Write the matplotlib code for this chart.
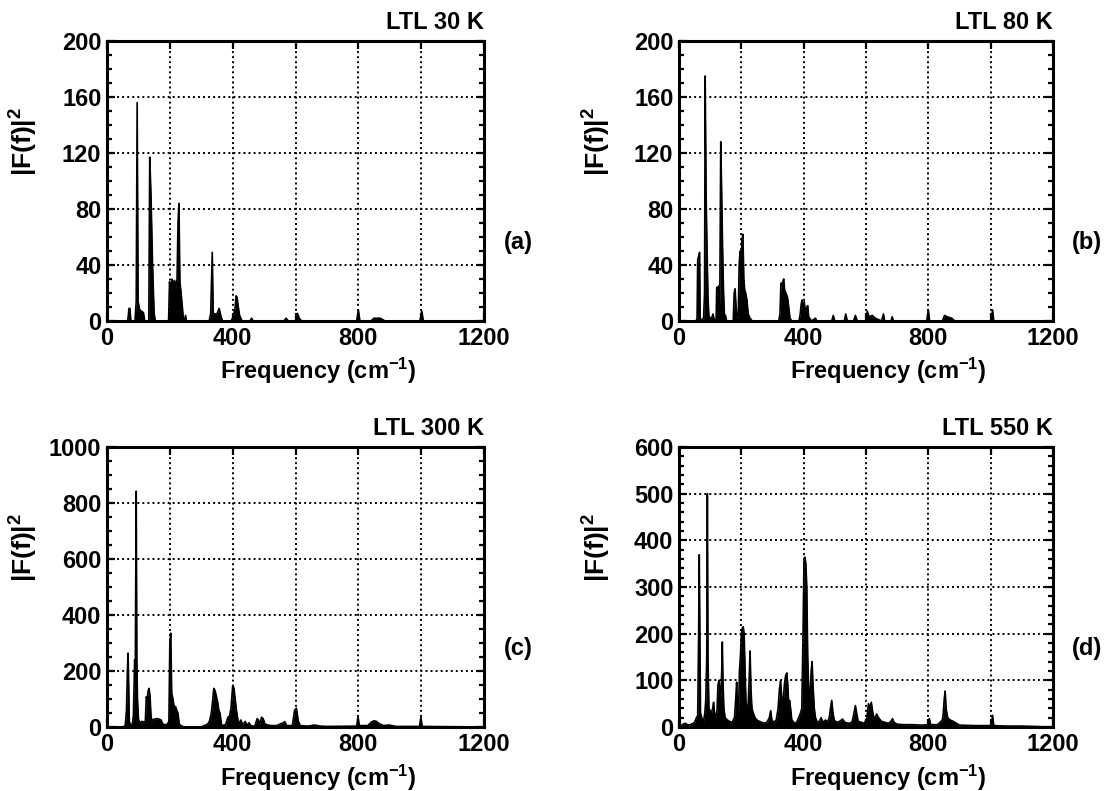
import matplotlib
matplotlib.use("Agg")
import matplotlib.pyplot as plt
import numpy as np
from matplotlib.ticker import MultipleLocator, FuncFormatter

plt.rcParams["font.family"] = ["Liberation Sans", "DejaVu Sans"]
plt.rcParams["font.weight"] = "bold"
plt.rcParams["mathtext.fontset"] = "custom"
plt.rcParams["mathtext.rm"] = "Liberation Sans:bold"
plt.rcParams["mathtext.it"] = "Liberation Sans:bold:italic"
plt.rcParams["mathtext.bf"] = "Liberation Sans:bold"

# Power spectra |F(f)|^2 of the LTL trajectory, as (frequency cm^-1, power) samples
SPEC_30K = [
    (0, 0), (66, 0), (70, 9), (73, 9), (76, 0), (89, 0), (93, 14), (96, 156), (99, 14),
    (104, 8), (110, 7), (116, 6), (120, 0), (133, 0), (136, 117), (140, 90), (145, 40),
    (150, 5), (154, 0), (196, 0), (199, 28), (203, 22), (207, 30), (211, 26), (215, 29),
    (219, 24), (223, 30), (226, 70), (229, 84), (232, 28), (235, 22), (239, 12), (243, 2),
    (247, 0), (250, 4), (253, 0), (325, 0), (330, 5), (335, 49), (338, 6), (342, 5),
    (350, 5), (357, 9), (362, 4), (368, 0), (395, 0), (402, 3), (408, 10), (411, 18),
    (414, 17), (418, 10), (422, 4), (430, 0), (455, 0), (460, 2), (466, 0), (563, 0),
    (570, 2), (577, 0), (600, 0), (606, 5.5), (612, 2), (620, 0), (795, 0), (800, 8),
    (805, 0), (840, 0), (850, 2), (870, 2), (885, 0), (996, 0), (1002, 7), (1007, 0),
    (1200, 0),
]

SPEC_80K = [
    (0, 0), (55, 0), (58, 2), (60, 44), (63, 46), (66, 49), (68, 2), (75, 0), (79, 3),
    (82, 20), (84, 175), (87, 90), (90, 50), (93, 17), (96, 3), (105, 2), (109, 5),
    (113, 1), (119, 0), (121, 24), (124, 22), (127, 25), (129, 2), (131, 20), (134, 128),
    (137, 90), (140, 50), (143, 20), (146, 3), (149, 4), (153, 0), (174, 0), (177, 20),
    (180, 23), (183, 10), (186, 2), (190, 3), (193, 40), (196, 50), (199, 30), (202, 58),
    (205, 62), (208, 30), (211, 22), (214, 20), (218, 15), (222, 5), (228, 2), (235, 0),
    (320, 0), (324, 5), (327, 27), (330, 26), (333, 28), (336, 30), (339, 22), (343, 20),
    (348, 17), (352, 10), (356, 2), (362, 0), (385, 0), (389, 5), (392, 12), (395, 15),
    (398, 8), (402, 14), (405, 6), (410, 10), (413, 11), (416, 3), (425, 0), (438, 2),
    (442, 0), (490, 0), (495, 4), (500, 0), (530, 0), (535, 5), (540, 0), (560, 0),
    (566, 4), (572, 0), (600, 0), (604, 7), (610, 3), (620, 4), (630, 2), (650, 0),
    (656, 5), (660, 0), (680, 0), (684, 3), (688, 0), (795, 0), (800, 8), (804, 0),
    (845, 0), (852, 4), (860, 3), (875, 2), (885, 0), (1002, 0), (1006, 8), (1010, 0),
    (1200, 0),
]

SPEC_300K = [
    (0, 0), (50, 0), (58, 5), (62, 60), (65, 200), (67, 264), (69, 150), (71, 20), (74, 10),
    (80, 5), (84, 40), (88, 240), (90, 200), (93, 842), (95, 240), (97, 100), (100, 30),
    (104, 15), (110, 20), (118, 18), (122, 20), (125, 108), (128, 100), (131, 130),
    (134, 138), (137, 110), (140, 40), (144, 20), (150, 28), (158, 30), (166, 28),
    (172, 25), (178, 10), (185, 8), (192, 10), (197, 20), (200, 300), (203, 335),
    (206, 120), (210, 100), (214, 70), (218, 73), (222, 60), (226, 49), (230, 10),
    (236, 5), (245, 0), (300, 0), (310, 5), (320, 10), (326, 20), (332, 50), (336, 90),
    (340, 138), (344, 130), (348, 110), (352, 90), (356, 60), (360, 49), (364, 10),
    (370, 5), (378, 10), (385, 35), (390, 38), (395, 70), (400, 147), (404, 140),
    (408, 100), (412, 60), (416, 30), (420, 10), (426, 25), (432, 8), (440, 20), (446, 5),
    (452, 15), (458, 5), (470, 2), (478, 30), (482, 25), (486, 10), (492, 35), (497, 30),
    (503, 10), (520, 5), (540, 5), (560, 15), (566, 19), (572, 5), (590, 5), (597, 60),
    (603, 67), (609, 20), (616, 5), (640, 3), (660, 7), (680, 3), (700, 2), (795, 3),
    (799, 37), (803, 5), (830, 5), (842, 18), (850, 22), (858, 20), (866, 12), (880, 5),
    (898, 7), (920, 2), (995, 2), (999, 35), (1003, 2), (1200, 0),
]

SPEC_550K = [
    (0, 0), (10, 5), (20, 8), (30, 4), (40, 6), (50, 10), (56, 20), (60, 25), (63, 200),
    (65, 369), (67, 200), (69, 30), (73, 20), (78, 10), (83, 30), (86, 60), (89, 150),
    (91, 500), (93, 150), (96, 40), (100, 35), (104, 30), (108, 40), (111, 53), (114, 30),
    (118, 20), (122, 35), (125, 90), (128, 100), (131, 80), (134, 60), (137, 120),
    (139, 182), (141, 100), (144, 40), (148, 20), (155, 15), (162, 12), (170, 10),
    (178, 20), (182, 60), (185, 96), (188, 40), (191, 30), (194, 120), (197, 150),
    (200, 200), (203, 212), (206, 215), (209, 200), (212, 120), (215, 50), (219, 45),
    (222, 50), (225, 100), (228, 163), (231, 80), (234, 40), (238, 30), (244, 20),
    (250, 15), (258, 12), (266, 10), (274, 8), (282, 10), (290, 20), (294, 35), (298, 15),
    (304, 10), (312, 15), (318, 40), (322, 80), (326, 100), (330, 60), (334, 50),
    (338, 90), (342, 110), (346, 116), (349, 90), (352, 50), (355, 57), (358, 40),
    (362, 15), (368, 10), (376, 8), (384, 20), (390, 30), (394, 40), (398, 200),
    (401, 360), (404, 364), (407, 350), (410, 300), (413, 150), (416, 80), (420, 60),
    (424, 120), (427, 140), (430, 90), (434, 40), (438, 20), (444, 10), (450, 12),
    (456, 20), (462, 10), (470, 15), (476, 10), (482, 20), (486, 40), (490, 57),
    (494, 30), (498, 15), (505, 10), (515, 12), (525, 17), (532, 10), (545, 8), (555, 10),
    (560, 25), (566, 46), (570, 30), (575, 12), (585, 10), (595, 8), (603, 20), (608, 50),
    (613, 40), (617, 53), (622, 30), (628, 15), (634, 28), (640, 20), (650, 12), (660, 10),
    (672, 8), (680, 12), (685, 18), (690, 10), (700, 6), (720, 5), (750, 5), (780, 4),
    (798, 5), (803, 18), (808, 5), (830, 5), (845, 15), (848, 30), (851, 60), (854, 77),
    (857, 40), (862, 20), (870, 15), (880, 12), (890, 8), (900, 4), (950, 3), (1002, 3),
    (1006, 25), (1010, 3), (1050, 2), (1100, 2), (1200, 0),
]

TITLES = ["LTL 30 K", "LTL 80 K", "LTL 300 K", "LTL 550 K"]
TAGS = ["(a)", "(b)", "(c)", "(d)"]
Y_MAX = [200, 200, 1000, 600]
Y_STEP = [40, 40, 200, 100]
Y_MINOR = [10, 10, 50, 20]

W, H = 1113, 791
# axes boxes in pixels: left, top, right, bottom
BOXES = [(107, 41, 484, 321), (679, 41, 1053, 321),
         (107, 447, 484, 727), (679, 447, 1053, 727)]
FS = 17

fig = plt.figure(figsize=(W / 100, H / 100), dpi=100)

for i, spec in enumerate([SPEC_30K, SPEC_80K, SPEC_300K, SPEC_550K]):
    l, t, r, b = BOXES[i]
    ax = fig.add_axes([l / W, 1 - b / H, (r - l) / W, (b - t) / H])
    freq, power = np.array(spec, dtype=float).T

    ax.fill_between(freq, 0, power, color="black", linewidth=0, zorder=3)
    ax.plot(freq, power, color="black", linewidth=1.2, zorder=3)

    ax.set_xlim(0, 1200)
    ax.set_ylim(0, Y_MAX[i])
    ax.xaxis.set_major_locator(MultipleLocator(200))
    ax.xaxis.set_major_formatter(
        FuncFormatter(lambda v, p: f"{v:.0f}" if v % 400 == 0 else ""))
    ax.yaxis.set_major_locator(MultipleLocator(Y_STEP[i]))
    ax.yaxis.set_minor_locator(MultipleLocator(Y_MINOR[i]))

    ax.grid(True, color="black", linestyle=(0, (1, 1.6)), linewidth=1.4)
    ax.tick_params(which="both", direction="in", top=True, right=True,
                   labelsize=FS, width=1.6, colors="black")
    ax.tick_params(which="major", length=6, pad=4)
    ax.tick_params(which="minor", length=3.5)
    for sp in ax.spines.values():
        sp.set_linewidth(2.2)

    ax.text(1.0, 1.025, TITLES[i], transform=ax.transAxes, ha="right", va="bottom",
            fontsize=FS)
    ax.text(1.09, 0.28, TAGS[i], transform=ax.transAxes, ha="center", va="center",
            fontsize=FS)
    ax.text(0.56, -0.18, "Frequency (cm$^{-1}$)", transform=ax.transAxes,
            ha="center", va="center", fontsize=FS)
    ax.text(-0.22, 0.64, "|F(f)|$^2$", transform=ax.transAxes, rotation=90,
            ha="center", va="center", fontsize=19)

fig.savefig("out.png", dpi=100)
